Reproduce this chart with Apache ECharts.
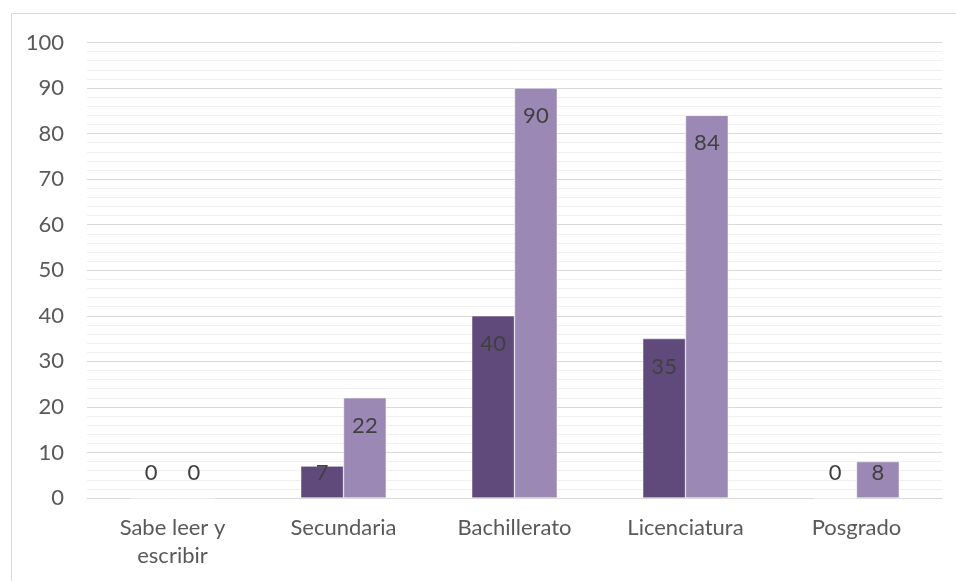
<!DOCTYPE html>
<html>
<head>
<meta charset="utf-8">
<script src="https://cdn.jsdelivr.net/npm/echarts@6/dist/echarts.min.js"></script>
<style>
  html, body { margin: 0; padding: 0; background: #fff; }
  #chart { width: 956px; height: 581px; }
</style>
</head>
<body>
<div id="chart"></div>
<script>
// Education levels and the two series of counts
const categories = ['Sabe leer y\nescribir', 'Secundaria', 'Bachillerato', 'Licenciatura', 'Posgrado'];
const seriesA = [0, 7, 40, 35, 0];
const seriesB = [0, 22, 90, 84, 8];
const yTicks = [0, 10, 20, 30, 40, 50, 60, 70, 80, 90, 100];

const FONT = 'Lato, "Open Sans", sans-serif';
const TEXT_SIZE = 22;

// Labels sit inside the top of each bar; short bars keep them just above the baseline
function withLabels(values) {
  return values.map(v => {
    const small = v < 11.5;
    return {
      value: v,
      label: small
        ? { position: 'insideBottom', distance: 14 }
        : { position: 'insideTop', distance: 17 }
    };
  });
}

const chart = echarts.init(document.getElementById('chart'), null, { renderer: 'canvas' });
chart.setOption({
  backgroundColor: '#ffffff',
  animation: false,
  textStyle: { fontFamily: FONT },
  graphic: [{
    type: 'rect',
    shape: { x: 11.5, y: 13.5, width: 1200, height: 800 },
    style: { fill: 'none', stroke: '#d9d9d9', lineWidth: 1 },
    silent: true,
    z: -1
  }],
  grid: { left: 87, right: 14, top: 42.5, bottom: 83, containLabel: false },
  xAxis: {
    type: 'category',
    data: categories,
    axisLine: { show: true, lineStyle: { color: '#d9d9d9', width: 1 } },
    axisTick: { show: false },
    axisLabel: {
      color: '#595959',
      fontFamily: FONT,
      fontSize: TEXT_SIZE,
      lineHeight: 28,
      margin: 16,
      interval: 0
    },
    splitLine: { show: false }
  },
  yAxis: {
    type: 'value',
    min: yTicks[0],
    max: yTicks[yTicks.length - 1],
    interval: yTicks[1] - yTicks[0],
    axisLine: { show: false },
    axisTick: { show: false },
    axisLabel: {
      color: '#595959',
      fontFamily: FONT,
      fontSize: TEXT_SIZE,
      margin: 23
    },
    splitLine: { show: true, lineStyle: { color: '#d9d9d9', width: 1 } },
    minorTick: { show: false, splitNumber: 5 },
    minorSplitLine: { show: true, lineStyle: { color: '#f0f0f0', width: 1 } }
  },
  series: [
    {
      type: 'bar',
      data: withLabels(seriesA),
      barWidth: '25%',
      barGap: '0%',
      itemStyle: { color: '#604a7b', borderColor: '#ffffff', borderWidth: 0.5 },
      label: { show: true, color: '#404040', fontFamily: FONT, fontSize: TEXT_SIZE }
    },
    {
      type: 'bar',
      data: withLabels(seriesB),
      barWidth: '25%',
      barGap: '0%',
      itemStyle: { color: '#9b88b4', borderColor: '#ffffff', borderWidth: 0.5 },
      label: { show: true, color: '#404040', fontFamily: FONT, fontSize: TEXT_SIZE }
    }
  ]
});
</script>
</body>
</html>
